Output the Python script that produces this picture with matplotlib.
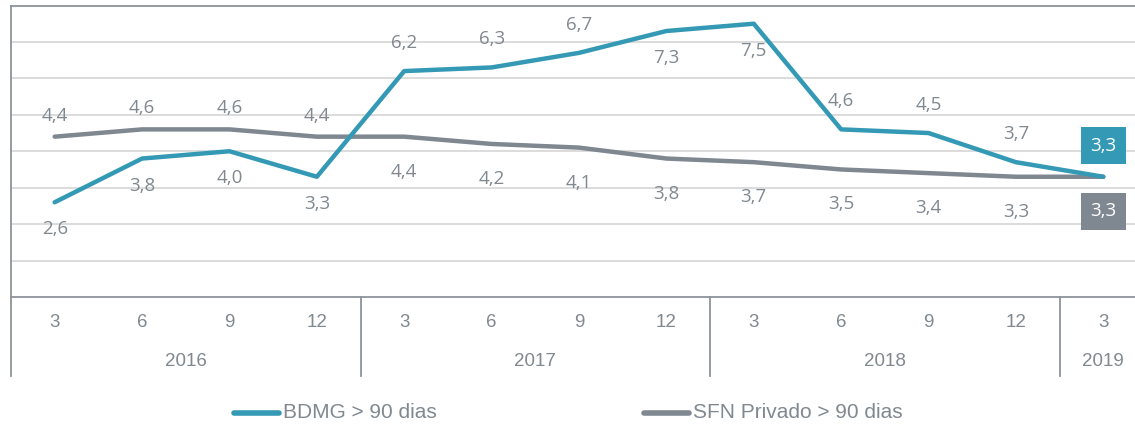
import matplotlib
matplotlib.use("Agg")
import matplotlib.pyplot as plt
from matplotlib.lines import Line2D

months = ["3", "6", "9", "12", "3", "6", "9", "12", "3", "6", "9", "12", "3"]
years = ["2016", "2017", "2018", "2019"]
year_sizes = [4, 4, 4, 1]
bdmg = [2.6, 3.8, 4.0, 3.3, 6.2, 6.3, 6.7, 7.3, 7.5, 4.6, 4.5, 3.7, 3.3]
sfn = [4.4, 4.6, 4.6, 4.4, 4.4, 4.2, 4.1, 3.8, 3.7, 3.5, 3.4, 3.3, 3.3]
# label side: 1 above, -1 below
bdmg_side = [-1, -1, -1, -1, 1, 1, 1, -1, -1, 1, 1, 1, 0]
sfn_side = [1, 1, 1, 1, -1, -1, -1, -1, -1, -1, -1, -1, 0]

teal = "#3399B5"
grey = "#7F8790"
txt = "#808890"

fig = plt.figure(figsize=(11.35, 4.24), dpi=100)
ax = fig.add_axes([11/1135, 127/424, 1136/1135, 291.5/424])

x = list(range(len(months)))
ax.plot(x, sfn, color=grey, lw=3.2, solid_capstyle="round", zorder=3)
ax.plot(x, bdmg, color=teal, lw=3.2, solid_capstyle="round", zorder=4)

ax.set_xlim(-0.5, len(months) - 0.5)
ax.set_ylim(0, 8)
ax.set_yticks(range(1, 8))
ax.yaxis.grid(True, color="#D9D9D9", lw=1.3)
ax.set_axisbelow(True)
ax.tick_params(left=False, labelleft=False, bottom=False, labelbottom=False)
ax.spines["right"].set_visible(False)
for s in ["left", "top", "bottom"]:
    ax.spines[s].set_color("#8C939A")
    ax.spines[s].set_linewidth(1.3)


def lab(v):
    return ("%.1f" % v).replace(".", ",")


for i, v in enumerate(bdmg):
    if bdmg_side[i] == 0:
        continue
    off = 28 if bdmg_side[i] > 0 else -27
    ax.annotate(lab(v), (i, v), xytext=(0, off), textcoords="offset pixels",
                ha="center", va="center", fontsize=13.5, color=txt,
                family="Open Sans")
for i, v in enumerate(sfn):
    if sfn_side[i] == 0:
        continue
    off = 21 if sfn_side[i] > 0 else -35
    ax.annotate(lab(v), (i, v), xytext=(0, off), textcoords="offset pixels",
                ha="center", va="center", fontsize=13.5, color=txt,
                family="Open Sans")

# end boxes
ax.text(12, 4.15, lab(bdmg[-1]), ha="center", va="center", fontsize=13.5,
        color="white", family="Open Sans",
        bbox=dict(boxstyle="square,pad=0.5", fc=teal, ec="none"))
ax.text(12, 2.35, lab(sfn[-1]), ha="center", va="center", fontsize=13.5,
        color="white", family="Open Sans",
        bbox=dict(boxstyle="square,pad=0.5", fc=grey, ec="none"))

# category axis
tr = ax.get_xaxis_transform()
for i, m in enumerate(months):
    ax.text(i, -0.089, m, transform=tr, ha="center", va="center",
            fontsize=13.5, color=txt, family="Liberation Sans")
start = 0
bounds = [-0.5]
for y, n in zip(years, year_sizes):
    ax.text(start + (n - 1) / 2, -0.22, y, transform=tr, ha="center",
            va="center", fontsize=13.5, color=txt, family="Liberation Sans")
    start += n
    bounds.append(start - 0.5)
for b in bounds:
    ax.add_line(Line2D([b, b], [0, -0.271], transform=tr, color="#8C939A",
                       lw=1.3, clip_on=False))

# legend
fy = 1 - 413/424
fig.add_artist(Line2D([234/1135, 279/1135], [fy, fy], color=teal, lw=4,
                      solid_capstyle="round"))
fig.text(283/1135, fy, "BDMG > 90 dias", ha="left", va="center",
         fontsize=15, color=txt, family="Liberation Sans")
fig.add_artist(Line2D([644/1135, 689/1135], [fy, fy], color=grey, lw=4,
                      solid_capstyle="round"))
fig.text(693/1135, fy, "SFN Privado > 90 dias", ha="left", va="center",
         fontsize=15, color=txt, family="Liberation Sans")

fig.savefig("out.png", dpi=100)
